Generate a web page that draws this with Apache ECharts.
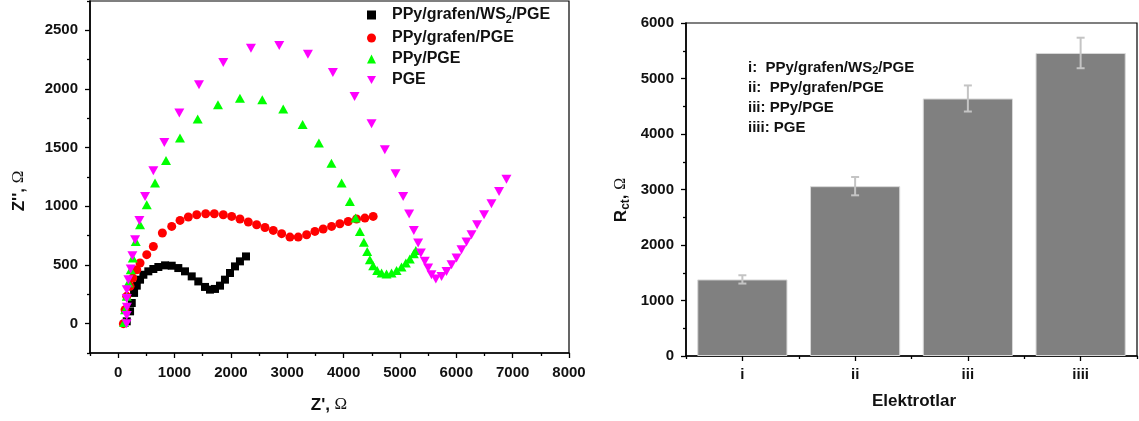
<!DOCTYPE html>
<html><head><meta charset="utf-8">
<script src="https://cdn.jsdelivr.net/npm/echarts@6/dist/echarts.min.js"></script>
<style>html,body{margin:0;padding:0;background:#fff}#c{width:1139px;height:421px}</style>
</head><body><div id="c"></div>
<script>
// ---- Nyquist data (Z', Z'') ----
const seriesNames = ['PPy/grafen/WS2/PGE', 'PPy/grafen/PGE', 'PPy/PGE', 'PGE'];
const ws2Data = [[152,20],[211,105],[241,176],[282,262],[330,324],[388,375],[447,417],[535,446],[624,466],[713,483],[832,497],[950,494],[1067,474],[1186,446],[1305,403],[1422,360],[1541,313],[1629,290],[1718,296],[1807,324],[1895,375],[1984,432],[2073,488],[2161,531],[2268,573]];
const grafenData = [[92,0],[122,119],[152,233],[211,318],[259,389],[330,460],[388,517],[507,588],[624,658],[784,773],[950,829],[1098,880],[1245,909],[1394,928],[1553,937],[1706,937],[1865,928],[2014,914],[2161,892],[2309,866],[2457,843],[2605,820],[2752,795],[2901,767],[3048,738],[3195,738],[3344,758],[3491,786],[3638,807],[3787,829],[3934,852],[4082,871],[4230,892],[4378,900],[4525,914]];
const ppyData = [[105,9],[122,119],[152,233],[181,349],[223,460],[259,560],[312,701],[388,843],[507,1014],[654,1198],[849,1391],[1097,1582],[1411,1744],[1771,1865],[2161,1922],[2557,1908],[2929,1829],[3273,1698],[3562,1539],[3784,1367],[3965,1198],[4112,1042],[4213,900],[4289,786],[4360,693],[4419,616],[4466,545],[4525,494],[4596,454],[4674,432],[4762,424],[4851,432],[4940,454],[5028,483],[5105,517],[5175,551],[5246,596],[5282,624]];
const pgeData = [[150,0],[152,70],[155,140],[152,215],[152,290],[181,375],[223,466],[252,579],[300,716],[376,880],[477,1084],[624,1303],[819,1544],[1085,1795],[1434,2036],[1865,2226],[2356,2348],[2858,2371],[3367,2297],[3810,2141],[4195,1936],[4496,1704],[4732,1482],[4922,1278],[5057,1084],[5163,934],[5246,795],[5323,687],[5371,602],[5441,531],[5500,474],[5560,417],[5637,381],[5738,403],[5826,445],[5915,503],[6004,560],[6092,630],[6181,696],[6270,758],[6369,843],[6493,928],[6624,1022],[6759,1127],[6890,1230]];
const zRealMajor = [0,1000,2000,3000,4000,5000,6000,7000,8000];
const zRealMinor = [-500,500,1500,2500,3500,4500,5500,6500,7500];
const zImagMajor = [0,500,1000,1500,2000,2500];
const zImagMinor = [-250,250,750,1250,1750,2250,2750];

// ---- Rct bar data ----
const barCategories = ['i', 'ii', 'iii', 'iiii'];
const rctValues = [1380, 3060, 4640, 5460];
const rctErrors = [75, 165, 235, 275];
const annotationLines = [
  ['i:  PPy/grafen/WS', '2', '/PGE'],
  ['ii:  PPy/grafen/PGE'],
  ['iii: PPy/PGE'],
  ['iiii: PGE']
];

const FONT = '"Liberation Sans", Arial, sans-serif';
const SERIF = '"Liberation Serif", "DejaVu Serif", serif';
const chart = echarts.init(document.getElementById('c'), null, {renderer: 'canvas'});

function richLine(parts) {
  if (parts.length === 3) return '{b|' + parts[0] + '}{s|' + parts[1] + '}{b|' + parts[2] + '}';
  return '{b|' + parts[0] + '}';
}
const plain = v => String(v);

const axisBase = {
  axisLine: {show: true, onZero: false, lineStyle: {color: '#000', width: 1.6}},
  splitLine: {show: false},
  axisLabel: {color: '#111', fontFamily: FONT, fontWeight: 'bold', fontSize: 15, formatter: plain}
};
const hiddenLine = {show: false, onZero: false};

const errorData = barCategories.map((c, i) => [i, rctValues[i] - rctErrors[i], rctValues[i] + rctErrors[i]]);

const option = {
  backgroundColor: '#fff',
  animation: false,
  grid: [
    {left: 90, top: 1, width: 479, height: 352, show: true, borderColor: '#000', borderWidth: 1.2, backgroundColor: 'transparent'},
    {left: 686, top: 23, width: 451, height: 333, show: true, borderColor: '#000', borderWidth: 1.2, backgroundColor: 'transparent'}
  ],
  xAxis: [
    Object.assign({}, axisBase, {gridIndex: 0, type: 'value', min: -500, max: 8000,
      axisTick: {show: true, customValues: zRealMajor, length: 5, lineStyle: {color: '#000', width: 1.3}},
      axisLabel: Object.assign({}, axisBase.axisLabel, {customValues: zRealMajor, margin: 12})}),
    {gridIndex: 0, type: 'value', min: -500, max: 8000, position: 'bottom',
      axisLine: hiddenLine, splitLine: {show: false}, axisLabel: {show: false},
      axisTick: {show: true, customValues: zRealMinor, length: 3, lineStyle: {color: '#000', width: 1.3}}},
    Object.assign({}, axisBase, {gridIndex: 1, type: 'category', data: barCategories,
      axisTick: {show: true, alignWithLabel: true, length: 5, lineStyle: {color: '#000', width: 1.3}},
      axisLabel: Object.assign({}, axisBase.axisLabel, {margin: 11})}),
    {gridIndex: 1, type: 'category', data: barCategories, position: 'bottom',
      axisLine: hiddenLine, splitLine: {show: false}, axisLabel: {show: false},
      axisTick: {show: true, length: 3, lineStyle: {color: '#000', width: 1.3}}}
  ],
  yAxis: [
    Object.assign({}, axisBase, {gridIndex: 0, type: 'value', min: -250, max: 2750,
      axisTick: {show: true, customValues: zImagMajor, length: 5, lineStyle: {color: '#000', width: 1.3}},
      axisLabel: Object.assign({}, axisBase.axisLabel, {customValues: zImagMajor, margin: 12})}),
    {gridIndex: 0, type: 'value', min: -250, max: 2750, position: 'left', offset: 0,
      axisLine: hiddenLine, splitLine: {show: false}, axisLabel: {show: false},
      axisTick: {show: true, customValues: zImagMinor, length: 3, lineStyle: {color: '#000', width: 1.3}}},
    Object.assign({}, axisBase, {gridIndex: 1, type: 'value', min: 0, max: 6000, interval: 1000,
      axisTick: {show: true, length: 5, lineStyle: {color: '#000', width: 1.3}},
      minorTick: {show: true, splitNumber: 2, length: 3, lineStyle: {color: '#000', width: 1.3}},
      minorSplitLine: {show: false},
      axisLabel: Object.assign({}, axisBase.axisLabel, {margin: 12})})
  ],
  legend: {
    orient: 'vertical', left: 362, top: 2, itemWidth: 9, itemHeight: 9, itemGap: 5,
    selectedMode: false,
    data: [
      {name: seriesNames[0], icon: 'rect'},
      {name: seriesNames[1], icon: 'circle'},
      {name: seriesNames[2], icon: 'triangle'},
      {name: seriesNames[3], icon: 'path://M0,0L10,0L5,9Z'}
    ],
    formatter: function (name) {
      if (name === 'PPy/grafen/WS2/PGE') return '{b|PPy/grafen/WS}{s|2}{b|/PGE}';
      return '{b|' + name + '}';
    },
    textStyle: {
      padding: [0, 0, 0, 11],
      rich: {
        b: {fontFamily: FONT, fontWeight: 'bold', fontSize: 16, color: '#111', lineHeight: 20},
        s: {fontFamily: FONT, fontWeight: 'bold', fontSize: 11, color: '#111', lineHeight: 11, verticalAlign: 'bottom'}
      }
    }
  },
  graphic: [].concat(
    annotationLines.map((parts, i) => ({
      type: 'text', left: 748, top: 60 + i * 20, silent: true,
      style: {
        text: richLine(parts),
        rich: {
          b: {fontFamily: FONT, fontWeight: 'bold', fontSize: 15, fill: '#111', lineHeight: 18},
          s: {fontFamily: FONT, fontWeight: 'bold', fontSize: 11, fill: '#111', lineHeight: 11, verticalAlign: 'bottom'}
        }
      }
    })),
    [
      {type: 'text', x: 329, y: 405, silent: true,
        style: {text: "{b|Z', }{o|Ω}", align: 'center', verticalAlign: 'middle',
          rich: {b: {fontFamily: FONT, fontWeight: 'bold', fontSize: 17, fill: '#111'}, o: {fontFamily: SERIF, fontSize: 17, fill: '#111'}}}},
      {type: 'text', x: 19, y: 191, rotation: Math.PI / 2, silent: true,
        style: {text: "{b|Z'', }{o|Ω}", align: 'center', verticalAlign: 'middle',
          rich: {b: {fontFamily: FONT, fontWeight: 'bold', fontSize: 17, fill: '#111'}, o: {fontFamily: SERIF, fontSize: 17, fill: '#111'}}}},
      {type: 'text', x: 914, y: 401, silent: true,
        style: {text: 'Elektrotlar', align: 'center', verticalAlign: 'middle',
          fontFamily: FONT, fontWeight: 'bold', fontSize: 17, fill: '#111'}},
      {type: 'text', x: 621, y: 200, rotation: Math.PI / 2, silent: true,
        style: {text: '{b|R}{s|ct}{b|, }{o|Ω}', align: 'center', verticalAlign: 'middle',
          rich: {b: {fontFamily: FONT, fontWeight: 'bold', fontSize: 17, fill: '#111', lineHeight: 22},
                 s: {fontFamily: FONT, fontWeight: 'bold', fontSize: 12, fill: '#111', lineHeight: 12, verticalAlign: 'bottom'},
                 o: {fontFamily: SERIF, fontSize: 16, fill: '#111', lineHeight: 22}}}}
    ]
  ),
  series: [
    {name: seriesNames[0], type: 'scatter', xAxisIndex: 0, yAxisIndex: 0, data: ws2Data,
      symbol: 'rect', symbolSize: 8, itemStyle: {color: '#000000', opacity: 1}},
    {name: seriesNames[1], type: 'scatter', xAxisIndex: 0, yAxisIndex: 0, data: grafenData,
      symbol: 'circle', symbolSize: 9, itemStyle: {color: '#ff0000', opacity: 1}},
    {name: seriesNames[2], type: 'scatter', xAxisIndex: 0, yAxisIndex: 0, data: ppyData,
      symbol: 'triangle', symbolSize: [10, 9], itemStyle: {color: '#00ff00', opacity: 1}},
    {name: seriesNames[3], type: 'scatter', xAxisIndex: 0, yAxisIndex: 0, data: pgeData,
      symbol: 'triangle', symbolRotate: 180, symbolSize: [10, 9], itemStyle: {color: '#ff00ff', opacity: 1}},
    {name: 'Rct', type: 'bar', xAxisIndex: 2, yAxisIndex: 2, data: rctValues, barWidth: '80%',
      itemStyle: {color: '#808080', borderColor: '#d8d8d8', borderWidth: 1}},
    {name: 'err', type: 'custom', xAxisIndex: 2, yAxisIndex: 2, data: errorData, z: 10,
      renderItem: function (params, api) {
        const x = api.value(0);
        const lo = api.coord([x, api.value(1)]);
        const hi = api.coord([x, api.value(2)]);
        const hw = 4;
        const st = {stroke: '#c4c4c4', lineWidth: 2};
        return {type: 'group', children: [
          {type: 'line', shape: {x1: lo[0], y1: lo[1], x2: hi[0], y2: hi[1]}, style: st},
          {type: 'line', shape: {x1: hi[0] - hw, y1: hi[1], x2: hi[0] + hw, y2: hi[1]}, style: st},
          {type: 'line', shape: {x1: lo[0] - hw, y1: lo[1], x2: lo[0] + hw, y2: lo[1]}, style: st}
        ]};
      }}
  ]
};
chart.setOption(option);
</script>
</body></html>
